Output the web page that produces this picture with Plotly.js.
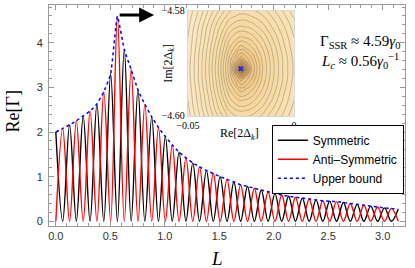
<!DOCTYPE html>
<html>
<head>
<meta charset="utf-8">
<script src="https://cdn.plot.ly/plotly-3.0.1.min.js"></script>
<style>html,body{margin:0;padding:0;background:#fff;}#chart{width:415px;height:268px;}</style>
</head>
<body>
<div id="chart"></div>
<script>
// ---- main plot data ----
const L = [0.000,0.063,0.126,0.188,0.251,0.314,0.377,0.440,0.503,0.565,
           0.628,0.691,0.754,0.817,0.880,0.942,1.005,1.068,1.131,1.194,
           1.257,1.319,1.382,1.445,1.508,1.571,1.634,1.696,1.759,1.822,
           1.885,1.948,2.011,2.073,2.136,2.199,2.262,2.325,2.388,2.450,
           2.513,2.576,2.639,2.702,2.765,2.827,2.890,2.953,3.016,3.079,
           3.142];
const symmetric = [2.00,0,2.16,0,2.36,0,2.63,0,3.30,0,
                   3.85,0,2.94,0,2.34,0,1.90,0,1.55,0,
                   1.31,0,1.14,0,1.00,0,0.88,0,0.78,0,
                   0.70,0,0.62,0,0.56,0,0.52,0,0.48,0,
                   0.45,0,0.42,0,0.38,0,0.34,0,0.30,0,
                   0.27];
const antiSymmetric = [0,2.08,0,2.25,0,2.47,0,2.90,0,4.59,
                       0,3.40,0,2.62,0,2.10,0,1.71,0,1.42,
                       0,1.22,0,1.07,0,0.94,0,0.82,0,0.74,
                       0,0.66,0,0.59,0,0.54,0,0.50,0,0.46,
                       0,0.44,0,0.40,0,0.36,0,0.32,0,0.29,
                       0];
const upperBound = [2.00,2.08,2.16,2.25,2.36,2.47,2.63,2.90,3.30,4.59,
                    3.85,3.40,2.94,2.62,2.34,2.10,1.90,1.71,1.55,1.42,
                    1.31,1.22,1.14,1.07,1.00,0.94,0.88,0.82,0.78,0.74,
                    0.70,0.66,0.62,0.59,0.56,0.54,0.52,0.50,0.48,0.46,
                    0.45,0.44,0.42,0.40,0.38,0.36,0.34,0.32,0.30,0.29,
                    0.27];

// ---- inset contour data (estimated field levels) ----
const insetX = [-0.05,-0.045,-0.04,-0.035,-0.03,-0.025,-0.02,-0.015,-0.01,-0.005,0];
const insetY = [-4.601,-4.599,-4.597,-4.595,-4.593,-4.591,-4.589,-4.587,-4.585,-4.583,-4.581,-4.579];
const insetZ = [
  [1.54,1.42,1.28,1.15,1.04,1.00,1.02,1.07,1.15,1.24,1.33],
  [1.52,1.38,1.23,1.08,0.95,0.89,0.92,0.99,1.09,1.19,1.29],
  [1.50,1.36,1.20,1.03,0.85,0.77,0.81,0.91,1.03,1.15,1.26],
  [1.49,1.34,1.17,0.98,0.77,0.63,0.71,0.84,0.98,1.12,1.24],
  [1.48,1.32,1.15,0.95,0.69,0.45,0.60,0.79,0.95,1.09,1.22],
  [1.47,1.32,1.14,0.93,0.66,0.00,0.54,0.77,0.94,1.09,1.21],
  [1.48,1.32,1.15,0.95,0.69,0.45,0.60,0.79,0.95,1.09,1.22],
  [1.49,1.34,1.17,0.98,0.77,0.63,0.71,0.84,0.98,1.12,1.24],
  [1.50,1.36,1.20,1.03,0.85,0.77,0.81,0.91,1.03,1.15,1.26],
  [1.52,1.38,1.23,1.08,0.95,0.89,0.92,0.99,1.09,1.19,1.29],
  [1.54,1.42,1.28,1.15,1.04,1.00,1.02,1.07,1.15,1.24,1.33],
  [1.57,1.45,1.33,1.21,1.13,1.09,1.11,1.15,1.22,1.29,1.38]
];
const insetCenterX = [-0.025];
const insetCenterY = [-4.591];

const serif = 'Liberation Serif, Times New Roman, serif';
const sans = 'Liberation Sans, Arial, sans-serif';
const frame = '#9a9a9a';

const traces = [
  {x: L, y: symmetric, type: 'scatter', mode: 'lines', name: 'Symmetric',
   line: {color: '#000000', width: 1.4, shape: 'spline', smoothing: 1}},
  {x: L, y: antiSymmetric, type: 'scatter', mode: 'lines', name: 'Anti–Symmetric',
   line: {color: '#ff0000', width: 1.4, shape: 'spline', smoothing: 1}},
  {x: L, y: upperBound, type: 'scatter', mode: 'lines', name: 'Upper bound',
   line: {color: '#0000ff', width: 1.5, dash: 'dot', shape: 'spline', smoothing: 0.4}},
  {x: insetX, y: insetY, z: insetZ, type: 'contour', xaxis: 'x2', yaxis: 'y2',
   zmin: 0, zmax: 1.6, zauto: false, showscale: false, showlegend: false, hoverinfo: 'skip',
   contours: {start: 0.06, end: 1.62, size: 0.06, coloring: 'heatmap'},
   line: {color: '#8f8068', width: 0.5, smoothing: 1.3},
   colorscale: [[0, '#8a5a28'], [0.15, '#c99050'], [0.3, '#ecbf7c'], [0.5, '#f6d69c'], [0.75, '#f9e1b2'], [1, '#fcebcb']]},
  {x: insetCenterX, y: insetCenterY, type: 'scatter', mode: 'markers', xaxis: 'x2', yaxis: 'y2',
   showlegend: false, hoverinfo: 'skip',
   marker: {symbol: 'x', size: 5, color: '#2a2ad8', line: {width: 0}}}
];

const layout = {
  width: 415, height: 268,
  margin: {l: 49, r: 10, t: 5, b: 42, pad: 0},
  paper_bgcolor: '#ffffff', plot_bgcolor: '#ffffff',
  showlegend: true,
  legend: {x: 0.626, y: 0.458, xanchor: 'left', yanchor: 'top',
           bgcolor: '#ffffff', bordercolor: '#000000', borderwidth: 1,
           font: {family: sans, size: 12, color: '#000'}, itemwidth: 30, tracegroupgap: 0},
  xaxis: {range: [-0.0628, 3.2044], tick0: 0, dtick: 0.5, tickformat: '.1f',
          ticks: 'inside', ticklen: 5, tickwidth: 1, tickcolor: frame,
          showline: true, linecolor: frame, linewidth: 1, mirror: 'allticks',
          showgrid: false, zeroline: false,
          minor: {dtick: 0.1, ticks: 'inside', ticklen: 3, tickcolor: frame, showgrid: false},
          tickfont: {family: sans, size: 11, color: '#333'}},
  yaxis: {range: [-0.105, 4.845], tick0: 0, dtick: 1,
          ticks: 'inside', ticklen: 5, tickwidth: 1, tickcolor: frame,
          showline: true, linecolor: frame, linewidth: 1, mirror: 'allticks',
          showgrid: false, zeroline: false, ticklabelstandoff: 3,
          minor: {dtick: 0.2, ticks: 'inside', ticklen: 3, tickcolor: frame, showgrid: false},
          tickfont: {family: sans, size: 11, color: '#333'}},
  xaxis2: {domain: [0.390, 0.688], anchor: 'y2', range: [-0.05, 0],
           tickvals: [-0.05, 0], ticks: 'inside', ticklen: 2, tickcolor: '#bbb',
           showline: true, linecolor: '#d8d8d8', mirror: true,
           showgrid: false, zeroline: false,
           tickfont: {family: serif, size: 10, color: '#000'}},
  yaxis2: {domain: [0.498, 0.973], anchor: 'x2', range: [-4.60, -4.58],
           tickvals: [-4.60, -4.58], tickformat: '.2f', ticks: 'inside', ticklen: 2, tickcolor: '#bbb',
           showline: true, linecolor: '#d8d8d8', mirror: true,
           showgrid: false, zeroline: false,
           tickfont: {family: serif, size: 10, color: '#000'}},
  annotations: [
    {xref: 'paper', yref: 'paper', x: -0.10, y: 0.52, xanchor: 'center', yanchor: 'middle',
     text: 'Re[Γ]', textangle: -90, showarrow: false, font: {family: serif, size: 18, color: '#000'}},
    {xref: 'paper', yref: 'paper', x: 0.472, y: -0.145, xanchor: 'center', yanchor: 'middle',
     text: '<i>L</i>', showarrow: false, font: {family: serif, size: 19, color: '#000'}},
    {xref: 'paper', yref: 'paper', x: 0.535, y: 0.418, xanchor: 'center', yanchor: 'middle',
     text: 'Re[2Δ<sub><i>k</i></sub>]', showarrow: false, font: {family: serif, size: 12, color: '#000'}},
    {xref: 'paper', yref: 'paper', x: 0.335, y: 0.735, xanchor: 'center', yanchor: 'middle',
     text: 'Im[2Δ<sub><i>k</i></sub>]', textangle: -90, showarrow: false, font: {family: serif, size: 12, color: '#000'}},
    {xref: 'paper', yref: 'paper', x: 0.994, y: 0.833, xanchor: 'right', yanchor: 'middle',
     text: 'Γ<sub>SSR</sub> ≈ 4.59<i>γ</i><sub>0</sub>', showarrow: false, font: {family: serif, size: 15, color: '#000'}},
    {xref: 'paper', yref: 'paper', x: 0.988, y: 0.745, xanchor: 'right', yanchor: 'middle',
     text: '<i>L<sub>c</sub></i> ≈ 0.56<i>γ</i><sub>0</sub><sup>−1</sup>', showarrow: false, font: {family: serif, size: 15, color: '#000'}},
    {xref: 'x', yref: 'y', x: 0.902, y: 4.62, axref: 'x', ayref: 'y', ax: 0.572, ay: 4.62,
     text: '', showarrow: true, arrowhead: 2, arrowsize: 1, arrowwidth: 3, arrowcolor: '#000'}
  ]
};

Plotly.newPlot('chart', traces, layout, {displayModeBar: false, staticPlot: true});
</script>
</body>
</html>
